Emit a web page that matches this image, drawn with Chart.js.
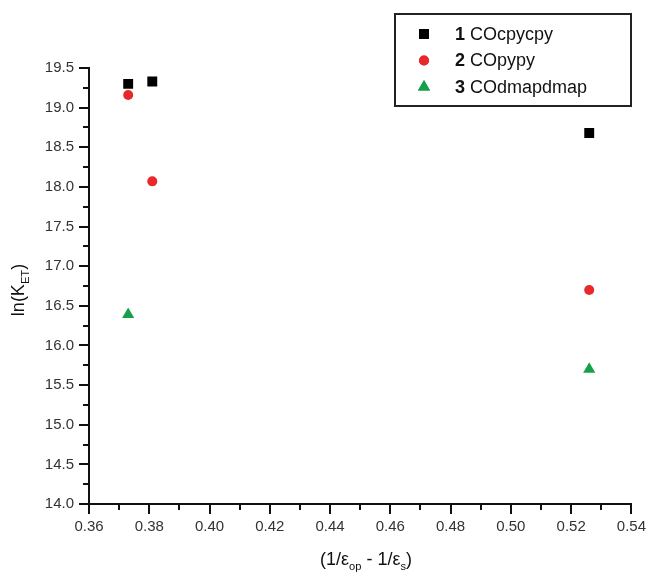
<!DOCTYPE html>
<html>
<head>
<meta charset="utf-8">
<script src="https://cdn.jsdelivr.net/npm/chart.js@4.4.1/dist/chart.umd.min.js"></script>
<style>
html,body{margin:0;padding:0;background:#fff;}
canvas{display:block;}
</style>
</head>
<body>
<canvas id="c" width="650" height="574"></canvas>
<script>
// ---- data ----
const seriesNumbers = ['1', '2', '3'];
const seriesNames = ['COcpycpy', 'COpypy', 'COdmapdmap'];
const xCOcpycpy = [0.373, 0.381, 0.526];
const yCOcpycpy = [19.30, 19.33, 18.68];
const xCOpypy = [0.373, 0.381, 0.526];
const yCOpypy = [19.16, 18.07, 16.70];
const xCOdmapdmap = [0.373, 0.526];
const yCOdmapdmap = [16.39, 15.70];
const xRange = [0.36, 0.54];
const yRange = [14.0, 19.5];
const xStep = 0.02, yStep = 0.5;

const toPts = (xs, ys) => xs.map((x, i) => ({x: x, y: ys[i]}));
const FONT = '"Liberation Sans", Arial, sans-serif';

const minorAndTitles = {
  id: 'extras',
  afterDraw(chart) {
    const ctx = chart.ctx;
    const xs = chart.scales.x, ys = chart.scales.y;
    const area = chart.chartArea;
    ctx.save();
    ctx.strokeStyle = '#111';
    ctx.lineWidth = 2;
    // minor ticks
    for (let v = yRange[0] + yStep / 2; v < yRange[1]; v += yStep) {
      const p = Math.round(ys.getPixelForValue(v));
      ctx.beginPath(); ctx.moveTo(area.left, p); ctx.lineTo(area.left - 6, p); ctx.stroke();
    }
    for (let v = xRange[0] + xStep / 2; v < xRange[1]; v += xStep) {
      const p = Math.round(xs.getPixelForValue(v));
      ctx.beginPath(); ctx.moveTo(p, area.bottom); ctx.lineTo(p, area.bottom + 6); ctx.stroke();
    }
    // axis titles with subscripts
    function drawParts(parts, cx, cy, size) {
      const sub = size * 0.62;
      let w = 0;
      parts.forEach(p => { ctx.font = (p.sub ? sub : size) + 'px ' + FONT; w += ctx.measureText(p.t).width; });
      let x = cx - w / 2;
      ctx.textBaseline = 'alphabetic';
      ctx.textAlign = 'left';
      parts.forEach(p => {
        ctx.font = (p.sub ? sub : size) + 'px ' + FONT;
        ctx.fillText(p.t, x, cy + (p.sub ? size * 0.3 : 0));
        x += ctx.measureText(p.t).width;
      });
    }
    ctx.fillStyle = '#111';
    drawParts([{t: '(1/ε'}, {t: 'op', sub: true}, {t: ' - 1/ε'}, {t: 's', sub: true}, {t: ')'}], 366, 565, 18);
    ctx.save();
    ctx.translate(24, 290);
    ctx.rotate(-Math.PI / 2);
    drawParts([{t: 'ln(K'}, {t: 'ET', sub: true}, {t: ')'}], 0, 0, 18);
    ctx.restore();

    // legend
    const lx = 395, ly = 14, lw = 236, lh = 92;
    ctx.lineWidth = 2;
    ctx.strokeStyle = '#222';
    ctx.strokeRect(lx, ly, lw, lh);
    chart.data.datasets.forEach((ds, i) => {
      const ry = 34 + i * 26.5;
      ctx.fillStyle = ds.backgroundColor;
      ctx.beginPath();
      Chart.helpers.drawPoint(ctx, {pointStyle: ds.pointStyle, radius: ds.pointRadius, borderWidth: 0, rotation: 0}, 424, ry);
      ctx.fill();
      ctx.fillStyle = '#111';
      ctx.textBaseline = 'middle';
      ctx.textAlign = 'left';
      ctx.font = 'bold 18px ' + FONT;
      ctx.fillText(seriesNumbers[i], 455, ry + 1);
      const nw = ctx.measureText(seriesNumbers[i] + ' ').width;
      ctx.font = '18px ' + FONT;
      ctx.fillText(seriesNames[i], 455 + nw, ry + 1);
    });
    ctx.restore();
  }
};

new Chart(document.getElementById('c'), {
  type: 'scatter',
  data: {
    datasets: [
      {label: seriesNames[0], data: toPts(xCOcpycpy, yCOcpycpy), pointStyle: 'rect', pointRadius: 7, backgroundColor: '#000000', borderWidth: 0},
      {label: seriesNames[1], data: toPts(xCOpypy, yCOpypy), pointStyle: 'circle', pointRadius: 5, backgroundColor: '#e8282b', borderWidth: 0},
      {label: seriesNames[2], data: toPts(xCOdmapdmap, yCOdmapdmap), pointStyle: 'triangle', pointRadius: 7, backgroundColor: '#16a04a', borderWidth: 0}
    ]
  },
  options: {
    responsive: false,
    animation: false,
    layout: {padding: {top: 68, right: 17, left: 0, bottom: 0}},
    plugins: {legend: {display: false}, tooltip: {enabled: false}},
    elements: {point: {hoverRadius: 7}},
    scales: {
      x: {
        type: 'linear', min: xRange[0], max: xRange[1],
        afterFit(s) { s.height = 70; },
        border: {display: true, color: '#111', width: 2},
        grid: {drawOnChartArea: false, drawTicks: true, tickLength: 10, color: '#111', lineWidth: 2},
        ticks: {stepSize: xStep, padding: 4, color: '#333', font: {family: FONT, size: 15},
          callback: v => Number(v).toFixed(2), maxRotation: 0, autoSkip: false}
      },
      y: {
        type: 'linear', min: yRange[0], max: yRange[1],
        afterFit(s) { s.width = 89; },
        border: {display: true, color: '#111', width: 2},
        grid: {drawOnChartArea: false, drawTicks: true, tickLength: 10, color: '#111', lineWidth: 2},
        ticks: {stepSize: yStep, padding: 5, color: '#333', font: {family: FONT, size: 15},
          callback: v => Number(v).toFixed(1), autoSkip: false}
      }
    }
  },
  plugins: [minorAndTitles]
});
</script>
</body>
</html>
